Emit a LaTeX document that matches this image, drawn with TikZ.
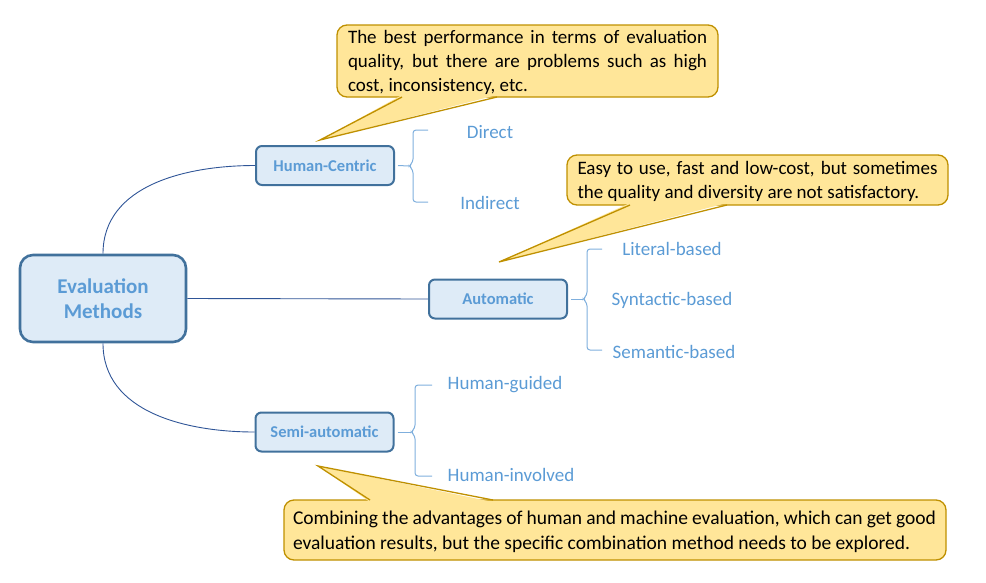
\documentclass[tikz,border=0pt]{standalone}
\usepackage{fontspec}
\setmainfont{Carlito}
\usetikzlibrary{calc}
\definecolor{boxfill}{HTML}{DEEBF7}
\definecolor{boxline}{HTML}{41719C}
\definecolor{lbl}{HTML}{5B9BD5}
\definecolor{conn}{HTML}{2F5597}
\definecolor{brc}{HTML}{7FAFDD}
\definecolor{cfill}{HTML}{FFE699}
\definecolor{cline}{HTML}{BF9000}
\tikzset{
  mainbox/.style={draw=boxline, fill=boxfill, line width=2.6pt, rounded corners=13pt,
    minimum width=166pt, minimum height=87pt, align=center, text=lbl,
    font=\fontsize{21}{25}\selectfont\bfseries, inner sep=0pt},
  subbox/.style={draw=boxline, fill=boxfill, line width=2pt, rounded corners=6pt,
    minimum width=138pt, minimum height=39pt, text=lbl,
    font=\fontsize{16.5}{19}\selectfont\bfseries, inner sep=0pt},
  leaf/.style={text=lbl, font=\fontsize{19}{22}\selectfont, inner sep=0pt},
  conline/.style={draw=conn, line width=0.9pt},
  bracel/.style={draw=brc, line width=1pt, rounded corners=3pt},
  callbox/.style={draw=cline, fill=cfill, line width=1.3pt, rounded corners=10pt, inner sep=0pt},
  calltext/.style={align=justify, font=\fontsize{19}{24}\selectfont, inner sep=0pt},
  tailfill/.style={fill=cfill},
  tailline/.style={draw=cline, line width=1.3pt, line join=miter},
}
\begin{document}
\begin{tikzpicture}[x=1pt,y=-1pt]
\useasboundingbox (0,0) rectangle (986,582);

% main nodes
\node[mainbox] (em) at (103,298.5) {Evaluation\\Methods};
\node[subbox] (hc) at (325,165.5) {Human-Centric};
\node[subbox] (au) at (498,299) {Automatic};
\node[subbox] (sa) at (324.5,432) {Semi-automatic};

% connectors
\draw[conline] (em.north) to[out=90,in=180] (hc.west);
\draw[conline] (em.east) -- (au.west);
\draw[conline] (em.south) to[out=-90,in=180] (sa.west);

% leaves
\node[leaf] (d1) at (490,132) {Direct};
\node[leaf] (d2) at (490,203) {Indirect};
\node[leaf] (a1) at (672,249) {Literal-based};
\node[leaf] (a2) at (672,300) {Syntactic-based};
\node[leaf] (a3) at (674,352) {Semantic-based};
\node[leaf] (s1) at (505,385) {Human-guided};
\node[leaf] (s2) at (511,475) {Human-involved};

% braces
\coordinate (hcb) at (413,166);
\draw[bracel] ($(hc.east)+(3,0)$) -- ($(hcb)+(-4,0)$);
\draw[bracel] (428,130) -- (413,130) -- ($(hcb)+(0,-4)$) -- ($(hcb)+(-4,0)$) -- ($(hcb)+(0,4)$) -- (413,202) -- (428,202);

\coordinate (aub) at (587,299);
\draw[bracel] ($(au.east)+(3,0)$) -- ($(aub)+(-4,0)$);
\draw[bracel] (602,249) -- (587,249) -- ($(aub)+(0,-4)$) -- ($(aub)+(-4,0)$) -- ($(aub)+(0,4)$) -- (587,350) -- (602,350);

\coordinate (sab) at (415,432);
\draw[bracel] ($(sa.east)+(3,0)$) -- ($(sab)+(-4,0)$);
\draw[bracel] (432,385) -- (415,385) -- ($(sab)+(0,-4)$) -- ($(sab)+(-4,0)$) -- ($(sab)+(0,4)$) -- (415,476) -- (432,476);

% callout 1
\node[callbox, minimum width=381pt, minimum height=72pt] (c1box) at (527.5,61) {};
\node[calltext, text width=359pt] (c1) at (527.5,62.5)
  {The best performance in terms of evaluation\linebreak quality, but there are problems such as high\linebreak cost, inconsistency, etc.};
\coordinate (t1) at (320,140);
\fill[tailfill] (402,95) -- (t1) -- (497,95) -- cycle;
\draw[tailline] (402,97) -- (t1) -- (497,97);

% callout 2
\node[callbox, minimum width=381pt, minimum height=50pt] (c2box) at (757.5,180) {};
\node[calltext, text width=360pt] (c2) at (757.5,181.5)
  {Easy to use, fast and low-cost, but sometimes\linebreak the quality and diversity are not satisfactory.};
\coordinate (t2) at (499,262);
\fill[tailfill] (630,203) -- (t2) -- (727,203) -- cycle;
\draw[tailline] (630,205) -- (t2) -- (727,205);

% callout 3
\node[callbox, minimum width=662pt, minimum height=60pt] (c3box) at (615,530) {};
\node[calltext, text width=643pt, font=\fontsize{19.5}{24.5}\selectfont] (c3) at (614.5,532)
  {Combining the advantages of human and machine evaluation, which can get good\linebreak evaluation results, but the specific combination method needs to be explored.};
\coordinate (t3) at (318,466);
\fill[tailfill] (370,502) -- (t3) -- (493,502) -- cycle;
\draw[tailline] (370,500) -- (t3) -- (493,500);
\end{tikzpicture}
\end{document}
